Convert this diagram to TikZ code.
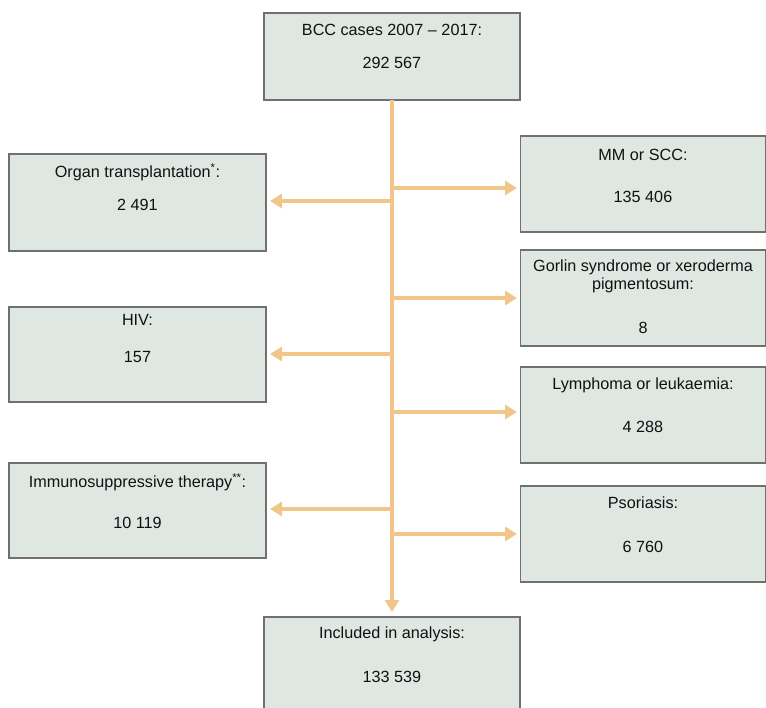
\documentclass[tikz,border=0pt]{standalone}
\usepackage{fontspec}
\setmainfont{Liberation Sans}
\usetikzlibrary{arrows.meta}
\definecolor{boxfill}{HTML}{DFE7E2}
\definecolor{boxline}{HTML}{707070}
\definecolor{arrc}{HTML}{F0C68A}
\definecolor{txtc}{HTML}{111111}
\begin{document}
\begin{tikzpicture}[x=1pt,y=-1pt,
  box/.style={draw=boxline,fill=boxfill,line width=1.3pt,rectangle,anchor=north west,inner sep=0pt,outer sep=0pt},
  txt/.style={text=txtc,font=\fontsize{16.2}{19}\selectfont,inner sep=0pt,anchor=center},
  arr/.style={draw=arrc,line width=3.4pt,-{Triangle[length=12pt,width=14pt]}},
  ]
\clip (0,0) rectangle (766,708);
\useasboundingbox (0,0) rectangle (766,708);
% boxes
\node[box,minimum width=256pt,minimum height=87pt] (top) at (264,13) {};
\node[box,minimum width=257pt,minimum height=97pt] (organ) at (9,154) {};
\node[box,minimum width=257pt,minimum height=95pt] (hiv) at (9,307) {};
\node[box,minimum width=257pt,minimum height=95pt] (immuno) at (9,463) {};
\node[box,minimum width=245pt,minimum height=96pt] (mm) at (520.5,136) {};
\node[box,minimum width=245pt,minimum height=96pt] (gorlin) at (520.5,250) {};
\node[box,minimum width=245pt,minimum height=96pt] (lymph) at (520.5,367) {};
\node[box,minimum width=245pt,minimum height=96pt] (psor) at (520.5,486) {};
\node[box,minimum width=256pt,minimum height=96pt] (inc) at (264,617) {};
% texts
\node[txt] (topA) at (392,30) {BCC cases 2007 – 2017:};
\node[txt] (topB) at (392,63) {292 567};
\node[txt] (organA) at (137.5,172) {Organ transplantation\textsuperscript{*}:};
\node[txt] (organB) at (137.5,205) {2 491};
\node[txt] (hivA) at (137.5,320) {HIV:};
\node[txt] (hivB) at (137.5,357) {157};
\node[txt] (immunoA) at (137.5,482) {Immunosuppressive therapy\textsuperscript{**}:};
\node[txt] (immunoB) at (137.5,523) {10 119};
\node[txt] (mmA) at (643,155) {MM or SCC:};
\node[txt] (mmB) at (643,197) {135 406};
\node[txt] (gorlinA) at (643,267) {Gorlin syndrome or xeroderma};
\node[txt] (gorlinB) at (643,285) {pigmentosum:};
\node[txt] (gorlinC) at (643,328) {8};
\node[txt] (lymphA) at (643,385) {Lymphoma or leukaemia:};
\node[txt] (lymphB) at (643,427) {4 288};
\node[txt] (psorA) at (643,503) {Psoriasis:};
\node[txt] (psorB) at (643,547) {6 760};
\node[txt] (incA) at (392,634) {Included in analysis:};
\node[txt] (incB) at (392,677) {133 539};
% connectors
\draw[arr,shorten >=5pt] (top.south) -- (inc.north);
\coordinate (orS) at ([yshift=1.5pt]top.south |- organ.east);
\draw[arr,shorten >=4pt] (orS) -- (orS -| organ.east);
\coordinate (hiS) at ([yshift=0.5pt]top.south |- hiv.east);
\draw[arr,shorten >=4pt] (hiS) -- (hiS -| hiv.east);
\coordinate (imS) at ([yshift=1.5pt]top.south |- immuno.east);
\draw[arr,shorten >=4pt] (imS) -- (imS -| immuno.east);
\coordinate (mmS) at ([yshift=-4pt]top.south |- mm.west);
\draw[arr,shorten >=3.5pt] (mmS) -- (mmS -| mm.west);
\draw[arr,shorten >=3.5pt] (top.south |- gorlin.west) -- (gorlin.west);
\coordinate (lyS) at ([yshift=3pt]top.south |- lymph.west);
\draw[arr,shorten >=3.5pt] (lyS) -- (lyS -| lymph.west);
\draw[arr,shorten >=3.5pt] (top.south |- psor.west) -- (psor.west);
\end{tikzpicture}
\end{document}
